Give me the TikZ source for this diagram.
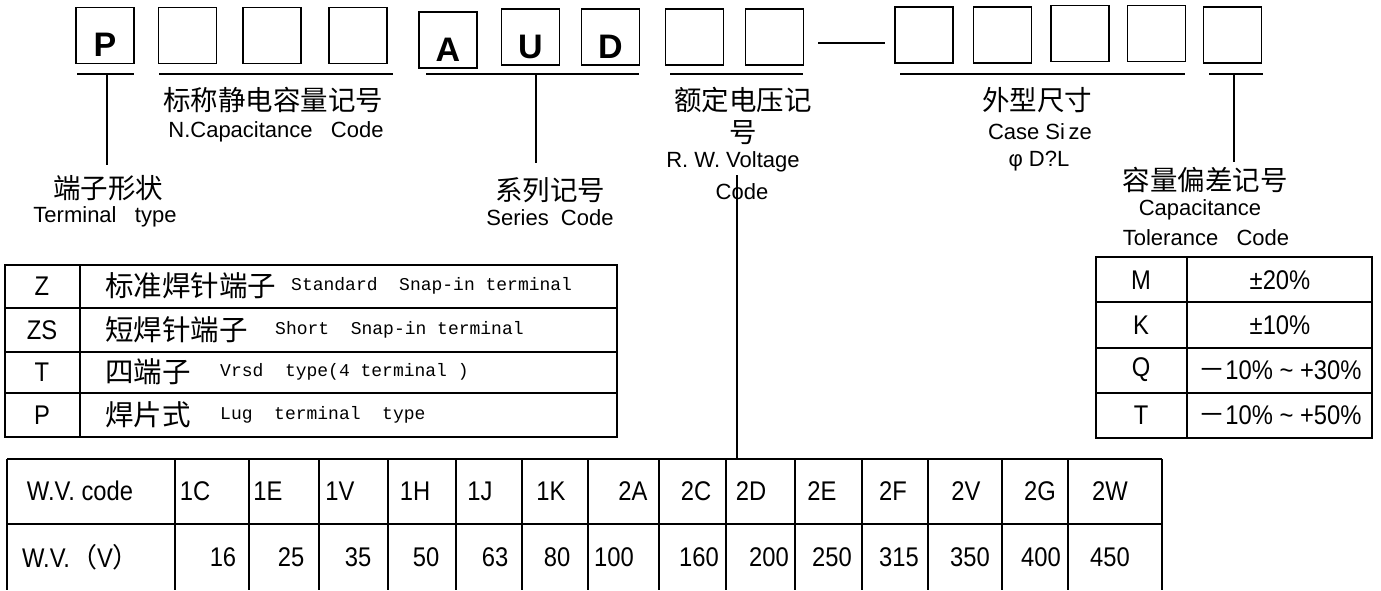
\documentclass[tikz,border=0pt]{standalone}
\usepackage{fontspec}
\setmainfont{Liberation Sans}
\newfontfamily\cjk{Noto Sans CJK SC}
\newfontfamily\monofnt{Liberation Mono}
\newfontfamily\narrowfnt[FakeStretch=0.88]{Liberation Sans}
\tikzset{
  codebox/.style={draw, line width=1.6pt, minimum width=58pt, minimum height=56pt, inner sep=0pt,
    text height=42pt, text depth=0pt, font=\fontsize{34}{34}\selectfont\bfseries},
  cnlabel/.style={inner sep=0pt, font=\cjk\fontsize{27.5}{30}\selectfont},
  enlabel/.style={inner sep=0pt, font=\fontsize{22}{24}\selectfont},
  underline/.style={line width=2.2pt},
  leader/.style={line width=1.3pt},
  rule/.style={line width=1.6pt},
  cell/.style={inner sep=0pt, font=\narrowfnt\fontsize{27}{29}\selectfont},
  cnrow/.style={inner sep=0pt, anchor=west, font=\cjk\fontsize{28.5}{30}\selectfont},
  enrow/.style={inner sep=0pt, anchor=west, font=\monofnt\fontsize{18}{20}\selectfont},
}
\begin{document}
\begin{tikzpicture}[x=1pt, y=-1pt, line join=miter]
  \useasboundingbox (0,0) rectangle (1381,590);
  % code boxes
  \foreach \n/\x/\y/\t in {1/105/35.5/P, 2/187.5/35.5/{}, 3/272/35.5/{}, 4/358/35.5/{},
      5/448/40/A, 6/530.5/37/U, 7/610.5/37/D, 8/694.5/37/{}, 9/774.5/37/{},
      10/924/35/{}, 11/1002.5/35/{}, 12/1080/33.5/{}, 13/1156.5/33.5/{}, 14/1232.5/35/{}}
    \node[codebox] (box\n) at (\x,\y) {\t};
  \coordinate (dashL) at (818,43);
  \coordinate (dashR) at (885,43);
  \draw[line width=2pt] (dashL) -- (dashR);
  \foreach \n/\a/\b in {p/77/134, cap/159/393, ser/426/639, vol/670/803, size/900/1185, tol/1209/1263} {
    \coordinate (\n-l) at (\a,74);
    \coordinate (\n-r) at (\b,74);
    \draw[underline] (\n-l) -- (\n-r);
  }
  % labels
  \node[cnlabel] (capcn) at (273,100) {标称静电容量记号};
  \node[enlabel] (capen) at (276,132) {N.Capacitance\ \ \ Code};
  \node[cnlabel] (termcn) at (108,188) {端子形状};
  \node[enlabel] (termen) at (105,217) {Terminal\ \ \ type};
  \node[cnlabel] (sercn) at (550,190) {系列记号};
  \node[enlabel] (seren) at (550,218) {Series\ \ Code};
  \node[cnlabel] (volcn) at (743,100) {额定电压记};
  \node[cnlabel] (volcn2) at (743,133) {号};
  \node[enlabel] (volen) at (733,162) {R. W. Voltage};
  \node[enlabel] (volen2) at (742,192) {Code};
  \node[cnlabel] (sizecn) at (1037,100) {外型尺寸};
  \node[enlabel] (sizeen) at (1040,132) {Case Si\,ze};
  \node[enlabel] (sizeen2) at (1039,161) {φ D?L};
  \node[cnlabel] (tolcn) at (1205,180) {容量偏差记号};
  \node[enlabel] (tolen) at (1200,210) {Capacitance};
  \node[enlabel] (tolen2) at (1206,238) {Tolerance\ \ \ Code};
  % leaders
  \coordinate (p-top) at (107,74);   \coordinate (p-end) at (107,165);
  \coordinate (ser-top) at (536,74); \coordinate (ser-end) at (536,163);
  \coordinate (vol-top) at (737,175); \coordinate (vol-end) at (737,459);
  \coordinate (tol-top) at (1234,74); \coordinate (tol-end) at (1234,162);
  \foreach \n in {p,ser,vol,tol}
    \draw[leader] (\n-top) -- (\n-end);
  % terminal table
  \draw[rule] (5,265) rectangle (617,437);
  \foreach \y in {308,352,393}
    \draw[rule] (5,\y) -- (617,\y);
  \draw[rule] (80,265) -- (80,437);
  \foreach \n/\y/\c/\z/\e/\ex in {1/286/Z/标准焊针端子/{Standard\ \ Snap-in terminal}/291,
      2/330/ZS/短焊针端子/{Short\ \ Snap-in terminal}/275,
      3/372/T/四端子/{Vrsd\ \ type(4 terminal\ )}/220,
      4/415/P/焊片式/{Lug\ \ terminal\ \ type}/220} {
    \node[cell] (tcode\n) at (42,\y) {\c};
    \node[cnrow] (tcn\n) at (105,\y) {\z};
    \node[enrow] (ten\n) at (\ex,\y) {\e};
  }
  % tolerance table
  \draw[rule] (1096,257) rectangle (1372,438);
  \foreach \y in {302,348,393}
    \draw[rule] (1096,\y) -- (1372,\y);
  \draw[rule] (1187,257) -- (1187,438);
  \foreach \n/\y/\c/\v in {1/280/M/{±20\%}, 2/325/K/{±10\%},
      3/370/Q/{{\cjk －}10\% \textasciitilde\ +30\%}, 4/415/T/{{\cjk －}10\% \textasciitilde\ +50\%}} {
    \node[cell] (tolc\n) at (1141,\y) {\c};
    \node[cell] (tolv\n) at (1280,\y) {\v};
  }
  % voltage table
  \draw[rule] (7,459) -- (1162,459);
  \draw[rule] (7,524) -- (1162,524);
  \foreach \x in {7,175,249,319,388,456,522,588,659,726,795,862,928,1002,1068,1162}
    \draw[rule] (\x,459) -- (\x,590);
  \foreach \n/\x/\t in {0/80/W.V. code, 1/195/1C, 2/268/1E, 3/340/1V, 4/415/1H, 5/480/1J, 6/551/1K,
      7/633/2A, 8/696/2C, 9/751/2D, 10/822/2E, 11/893/2F, 12/966/2V, 13/1040/2G, 14/1110/2W}
    \node[cell] (code\n) at (\x,491) {\t};
  \foreach \n/\x/\t in {0/81/{W.V.{\cjk （}V{\cjk ）}}, 1/223/16, 2/291/25, 3/358/35, 4/426/50, 5/495/63, 6/557/80,
      7/614/100, 8/699/160, 9/769/200, 10/832/250, 11/899/315, 12/970/350, 13/1041/400, 14/1110/450}
    \node[cell] (volt\n) at (\x,557) {\t};
\end{tikzpicture}
\end{document}
